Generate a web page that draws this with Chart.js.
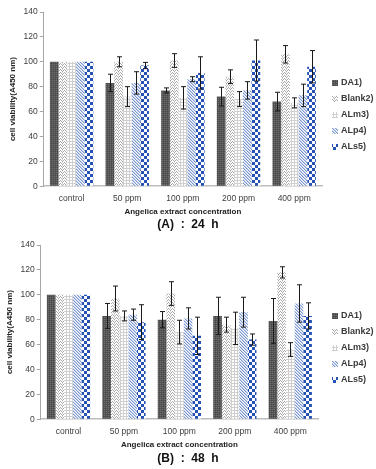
<!DOCTYPE html>
<html>
<head>
<meta charset="utf-8">
<script src="https://cdn.jsdelivr.net/npm/chart.js@4"></script>
<style>
  html, body { margin: 0; padding: 0; background: #fff; }
  body { width: 376px; height: 469px; position: relative; overflow: hidden; font-family: "Liberation Sans", Arial, sans-serif; }
  .box { position: absolute; left: 0; width: 376px; height: 218px; }
  .cap { position: absolute; width: 376px; left: 0; text-align: center; font-weight: bold; font-size: 12px; color: #111; white-space: pre; }
</style>
</head>
<body>
<div class="box" style="top:0"><canvas id="c1" width="376" height="218"></canvas></div>
<div class="cap" style="top:217px; left:0px">(A)  :  24  h</div>
<div class="box" style="top:233px"><canvas id="c2" width="376" height="218"></canvas></div>
<div class="cap" style="top:451px; left:0px">(B)  :  48  h</div>
<script>
// ---- data ----
const categories = ['control', '50 ppm', '100 ppm', '200 ppm', '400 ppm'];
const seriesNames = ['DA1)', 'Blank2)', 'ALm3)', 'ALp4)', 'ALs5)'];
const yTicks = [0, 20, 40, 60, 80, 100, 120, 140];

// (A) 24 h
const da1_24   = [100, 83, 77, 72, 68];
const blank_24 = [100, 100, 101, 88, 106];
const alm_24   = [100, 72, 71, 70, 67];
const alp_24   = [100, 83, 86, 77, 73];
const als_24   = [100, 97, 91, 101, 96];
const da1_24_err   = [0, 7, 2, 7.5, 7.5];
const blank_24_err = [0, 4, 5.5, 5.5, 7];
const alm_24_err   = [0, 8, 9, 6, 4];
const alp_24_err   = [0, 9, 2, 7, 9];
const als_24_err   = [0, 2.5, 13, 16.5, 13];

// (B) 48 h
const da1_48   = [100, 83, 80, 83, 79];
const blank_48 = [100, 97, 101, 76, 118];
const alm_48   = [100, 83, 70, 73, 56];
const alp_48   = [100, 84, 81, 86, 93];
const als_48   = [100, 78, 67, 64, 83];
const da1_48_err   = [0, 10, 6.5, 15, 18];
const blank_48_err = [0, 10, 9.5, 6, 4.5];
const alm_48_err   = [0, 4, 9.5, 13, 5.5];
const alp_48_err   = [0, 4.5, 8.5, 12, 15];
const als_48_err   = [0, 14, 15, 4.5, 10.5];

// ---- patterns ----
function makePattern(w, h, draw) {
  const c = document.createElement('canvas');
  c.width = w; c.height = h;
  const g = c.getContext('2d');
  draw(g);
  return g.createPattern(c, 'repeat');
}
function px(g, x, y, col) { g.fillStyle = col; g.fillRect(x, y, 1, 1); }

const patDA1 = makePattern(2, 2, g => {
  g.fillStyle = '#555555'; g.fillRect(0, 0, 2, 2);
  px(g, 0, 0, '#6e6e6e'); px(g, 1, 1, '#4a4a4a');
});
const patBlank = makePattern(4, 3, g => {
  g.fillStyle = '#ffffff'; g.fillRect(0, 0, 4, 3);
  const col = '#a9a9a9';
  px(g, 0, 0, col); px(g, 1, 1, col); px(g, 2, 2, col); px(g, 3, 1, col);
  px(g, 2, 0, '#dcdcdc');
});
const patALm = makePattern(3, 3, g => {
  g.fillStyle = '#ffffff'; g.fillRect(0, 0, 3, 3);
  g.fillStyle = '#cfcfcf'; g.fillRect(0, 0, 3, 1); g.fillRect(0, 0, 1, 3);
});
const patALp = makePattern(3, 3, g => {
  g.fillStyle = '#ffffff'; g.fillRect(0, 0, 3, 3);
  px(g, 0, 0, '#7b97cf'); px(g, 1, 1, '#7b97cf'); px(g, 2, 2, '#7b97cf');
  px(g, 1, 0, '#c4d1ec'); px(g, 2, 1, '#c4d1ec'); px(g, 0, 2, '#c4d1ec');
});
const patALs = makePattern(6, 6, g => {
  g.fillStyle = '#ffffff'; g.fillRect(0, 0, 6, 6);
  g.fillStyle = '#2451b3'; g.fillRect(0, 0, 3, 3); g.fillRect(3, 3, 3, 3);
});
const patterns = [patDA1, patBlank, patALm, patALp, patALs];

// ---- plugins ----
const errorBars = {
  id: 'errorBars',
  afterDatasetsDraw(chart) {
    const ctx = chart.ctx, ys = chart.scales.y;
    ctx.save();
    ctx.strokeStyle = '#1a1a1a';
    ctx.lineWidth = 1;
    chart.data.datasets.forEach((ds, i) => {
      const meta = chart.getDatasetMeta(i);
      meta.data.forEach((el, j) => {
        const e = ds.errors[j];
        if (!e) return;
        const v = ds.data[j];
        const x = Math.round(el.x) + 0.5;
        const t = ys.getPixelForValue(v + e), b = ys.getPixelForValue(v - e);
        ctx.beginPath();
        ctx.moveTo(x, t); ctx.lineTo(x, b);
        ctx.moveTo(x - 2.5, t); ctx.lineTo(x + 2.5, t);
        ctx.moveTo(x - 2.5, b); ctx.lineTo(x + 2.5, b);
        ctx.stroke();
      });
    });
    ctx.restore();
  }
};

const sideLegend = {
  id: 'sideLegend',
  afterDraw(chart) {
    const ctx = chart.ctx, a = chart.chartArea;
    ctx.save();
    ctx.font = '600 9px "Liberation Sans", Arial, sans-serif';
    ctx.textBaseline = 'middle';
    chart.data.datasets.forEach((ds, i) => {
      const y = a.top + 71 + i * 16;
      ctx.fillStyle = ds.backgroundColor;
      ctx.fillRect(332, y - 3, 6, 6);
      ctx.fillStyle = '#3a3a3a';
      ctx.fillText(ds.label, 341, y);
    });
    ctx.restore();
  }
};

function buildChart(id, values, errors, padL, padR) {
  const datasets = seriesNames.map((name, i) => ({
    label: name,
    data: values[i],
    errors: errors[i],
    backgroundColor: patterns[i],
    borderWidth: 0,
    categoryPercentage: 0.78,
    barPercentage: 1.0
  }));
  return new Chart(document.getElementById(id), {
    type: 'bar',
    data: { labels: categories, datasets },
    options: {
      responsive: false,
      animation: false,
      layout: { padding: { left: padL, right: padR, top: 12, bottom: 1 } },
      plugins: { legend: { display: false }, tooltip: { enabled: false } },
      scales: {
        x: {
          grid: { display: false, drawTicks: false },
          border: { display: true, color: '#bdbdbd', width: 1.5 },
          ticks: { color: '#404040', font: { size: 8.5, family: '"Liberation Sans", Arial, sans-serif' }, padding: 7, maxRotation: 0 },
          title: { display: true, text: 'Angelica extract concentration', color: '#222',
                   font: { size: 8, weight: 'bold', family: '"Liberation Sans", Arial, sans-serif' }, padding: { top: -3, bottom: 0 } }
        },
        y: {
          min: 0, max: 140,
          afterBuildTicks(scale) { scale.ticks = yTicks.map(v => ({ value: v })); },
          grid: { display: true, drawOnChartArea: false, drawTicks: true, tickLength: 4, color: '#a6a6a6' },
          border: { display: true, color: '#a6a6a6', width: 1 },
          ticks: { color: '#404040', font: { size: 8.5, family: '"Liberation Sans", Arial, sans-serif' }, padding: 2 },
          title: { display: true, text: 'cell viability(A450 nm)', color: '#222',
                   font: { size: 8, weight: 'bold', family: '"Liberation Sans", Arial, sans-serif' }, padding: { top: 0, bottom: 4 } }
        }
      }
    },
    plugins: [errorBars, sideLegend]
  });
}

buildChart('c1',
  [da1_24, blank_24, alm_24, alp_24, als_24],
  [da1_24_err, blank_24_err, alm_24_err, alp_24_err, als_24_err], 8, 54);
buildChart('c2',
  [da1_48, blank_48, alm_48, alp_48, als_48],
  [da1_48_err, blank_48_err, alm_48_err, alp_48_err, als_48_err], 5, 58);
</script>
</body>
</html>
